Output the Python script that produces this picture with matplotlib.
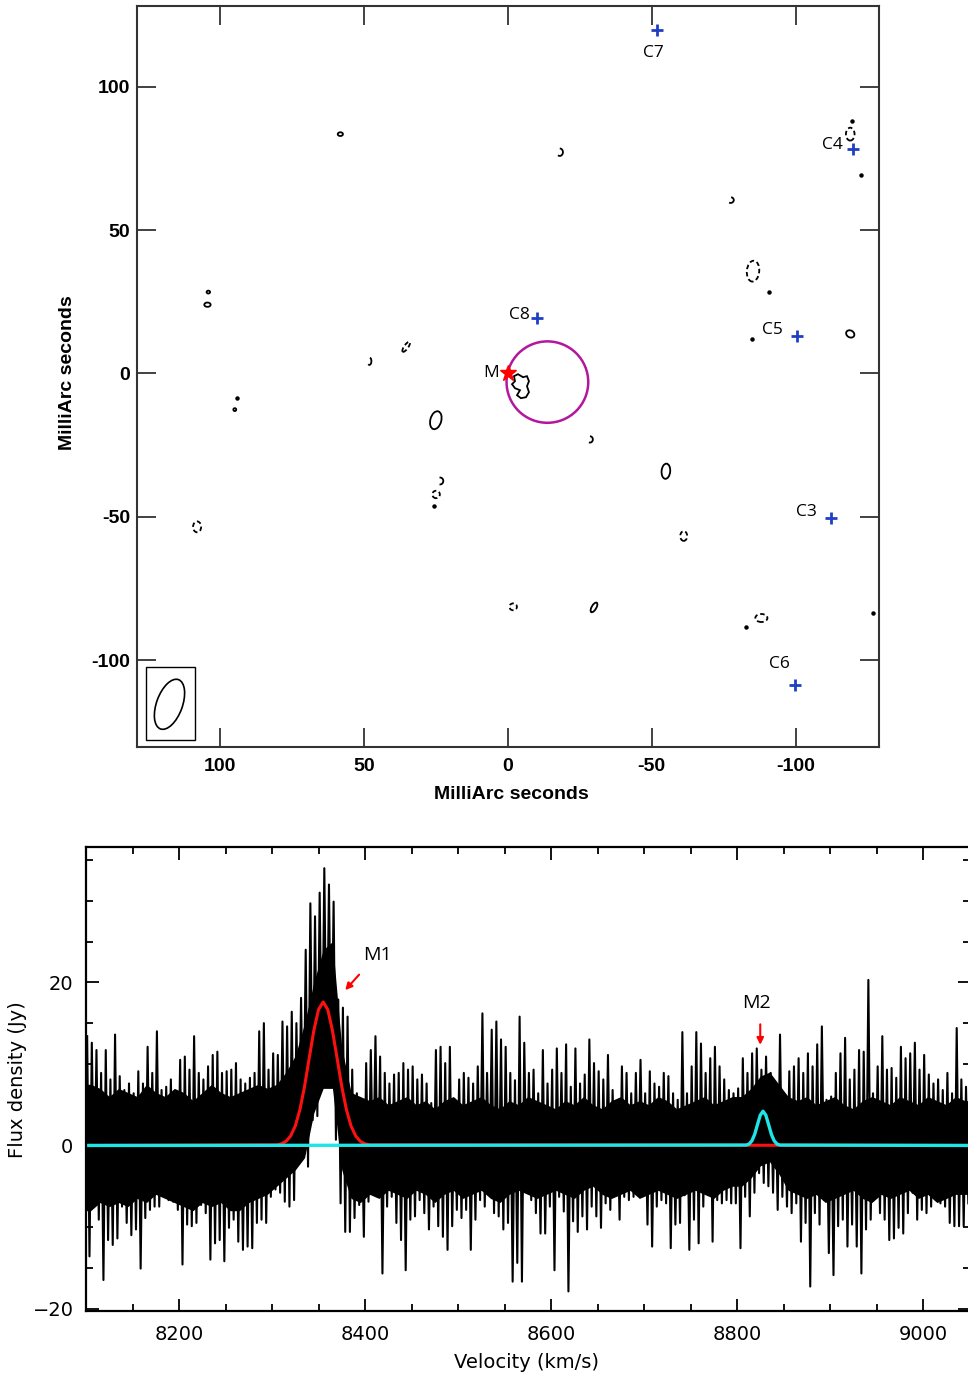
import matplotlib.pyplot as plt
from matplotlib.patches import Ellipse, Arc, Circle, Rectangle, Polygon
import numpy as np

# ---------------- top panel: VLBI map (milliarcsec) ----------------
src_names = ['C3', 'C4', 'C5', 'C6', 'C7', 'C8']
src_x = [-112.4, -120.1, -100.5, -99.9, -51.7, -10.2]
src_y = [-50.4, 78.3, 13.1, -108.8, 119.8, 19.4]
lab_x = [-103.7, -112.8, -92.0, -94.4, -50.6, -3.9]
lab_y = [-48.2, 79.6, 15.1, -101.3, 111.8, 20.5]

# closed contours: x, y, width, height, angle, dashed?
ell_x = [58.3, 104.2, 104.5, -119.0, 25.1, -54.9, -29.9, 95.0,
         -85.2, -119.0, 25.0, 108.1, -1.8, -88.1, 35.4, -61.1]
ell_y = [83.5, 28.4, 24.0, 13.8, -16.3, -34.1, -81.6, -12.6,
         35.7, 83.5, -42.2, -53.5, -81.4, -85.3, 9.3, -56.7]
ell_w = [1.8, 1.2, 2.2, 3.0, 3.8, 3.0, 1.6, 1.0,
         4.3, 3.0, 2.6, 2.8, 2.6, 4.2, 1.4, 2.4]
ell_h = [1.3, 1.0, 1.5, 2.4, 6.4, 5.3, 3.8, 1.0,
         7.3, 4.5, 2.6, 3.8, 2.4, 2.8, 4.2, 3.4]
ell_a = [0, 0, 0, 30, 15, 5, 30, 0,
         5, 0, 0, 0, 0, 0, 35, 0]
ell_dash = [False] * 8 + [True] * 8

# open contour pieces
arc_x = [-18.0, -77.4, 48.2, -28.5, 23.6]
arc_y = [77.2, 60.5, 4.3, -23.0, -37.5]
arc_w = [2.2, 2.2, 1.4, 2.0, 2.2]
arc_h = [2.6, 2.0, 2.6, 2.2, 2.4]
arc_t1 = [90, 100, 100, 90, 80]
arc_t2 = [300, 300, 290, 290, 280]

dot_x = [-119.5, -122.9, -90.6, -84.7, 94.4, 25.9, -82.6, -126.8]
dot_y = [88.0, 69.2, 28.4, 12.0, -8.4, -46.2, -88.5, -83.7]

# contour around the maser position M
m_blob_x = [-2.08, -3.47, -5.21, -6.60, -7.29, -6.60, -7.29, -6.25, -4.51,
            -3.13, -4.17, -2.43, -1.39, -2.43]
m_blob_y = [-0.94, -0.24, -1.29, -0.94, -2.69, -4.43, -6.52, -8.27, -8.62,
            -7.57, -5.83, -5.13, -3.73, -2.69]

# ---------------- bottom panel: spectrum ----------------
# per 5 km/s channel group: upper and lower extent of the trace (Jy)
spec_hi = [13.4, 12.6, 11.7, 8.9, 11.7, 8.1, 13.6, 8.5, 6.8, 7.6,
           6.4, 9.1, 7.6, 12.1, 8.9, 14.0, 6.8, 7.2, 8.1, 6.0,
           10.5, 10.9, 9.3, 13.4, 8.9, 8.1, 9.7, 11.1, 11.5, 8.9,
           9.1, 9.3, 10.1, 8.1, 7.6, 8.3, 8.9, 14.0, 15.0, 9.3,
           11.3, 11.1, 15.2, 14.6, 16.4, 15.0, 18.1,
           24.0, 29.7, 28.1, 31.0, 34.0, 32.0, 29.9, 17.9, 16.9, 15.8,
           9.3, 6.4, 5.2, 10.1, 11.7, 13.4, 10.9, 8.9, 7.6, 8.7,
           8.9, 10.1, 9.3, 9.7, 8.1, 8.7, 7.6, 5.2, 11.7, 12.1,
           10.1, 12.1, 5.6, 8.1, 8.9, 8.3, 7.6, 9.7, 16.2, 8.9,
           14.2, 15.2, 13.0, 12.1, 8.9, 8.0,
           15.8, 12.6, 8.9, 9.3, 6.4, 11.7, 7.6, 9.3, 11.9, 8.9,
           12.4, 7.2, 11.9, 7.6, 8.7, 13.0, 10.1, 9.1, 8.1, 11.1,
           6.8, 4.8, 9.7, 8.9, 6.4, 8.9, 10.5, 6.4, 9.1, 7.6,
           7.2, 8.9, 8.5, 6.4, 5.6, 13.9, 6.4, 9.7, 13.9, 12.5,
           8.9, 10.7, 12.1, 9.7, 8.1, 6.8,
           6.4, 7.0, 10.7, 8.9, 11.3, 11.9, 9.3, 10.9, 8.9, 7.4,
           13.6, 5.2, 9.1, 9.7, 10.7, 8.9, 11.3, 9.7, 12.4, 14.6,
           5.6, 6.0, 8.9, 11.3, 13.2, 8.1, 9.3, 11.7, 11.5, 20.3,
           6.4, 9.7, 13.4, 9.3, 9.5, 8.3, 12.1, 10.7, 11.3, 12.6,
           9.3, 11.1, 8.7, 7.6, 8.1, 6.8, 8.9, 6.4, 14.4, 8.1,
           7.2]
spec_lo = [-13.6, -7.5, -9.1, -16.5, -11.6, -12.2, -11.4, -7.5, -9.5, -11.0,
           -10.3, -15.1, -8.9, -7.9, -7.5, -7.5, -5.8, -6.7, -6.9, -7.9,
           -14.6, -9.7, -9.9, -9.5, -7.3, -8.3, -14.0, -12.0, -11.6, -14.2,
           -10.1, -9.1, -11.8, -12.8, -12.4, -12.6, -9.5, -9.1, -9.5, -6.3,
           -5.4, -5.8, -6.9, -7.5, -6.7, -1.8, -0.9,
           -2.6, 3.1, 3.6, 6.8, 7.6, 7.2, 0.7, -7.1, -10.6, -10.6,
           -8.9, -7.3, -11.2, -6.9, -4.6, -5.8, -15.7, -7.5, -6.3, -9.5,
           -11.6, -15.3, -9.1, -8.7, -6.7, -8.3, -10.3, -7.5, -9.9, -11.2,
           -12.8, -9.9, -7.9, -8.9, -7.9, -12.8, -9.1, -6.7, -7.5, -5.8,
           -8.3, -8.7, -10.3, -9.5, -16.7, -14.4,
           -16.7, -5.8, -6.7, -8.3, -10.8, -10.8, -7.5, -15.3, -6.3, -8.1,
           -17.9, -9.3, -10.6, -8.7, -10.3, -7.5, -8.7, -10.1, -7.1, -7.9,
           -5.8, -9.1, -6.3, -6.7, -6.3, -5.4, -4.6, -9.7, -12.4, -7.5,
           -6.7, -7.1, -12.6, -9.7, -9.5, -6.1, -12.8, -9.1, -12.0, -7.5,
           -5.8, -11.8, -6.7, -7.1, -6.7, -7.1,
           -7.1, -12.6, -6.3, -8.7, -5.8, -3.4, -4.6, -5.0, -5.8, -7.9,
           -6.3, -7.5, -8.3, -7.1, -11.8, -9.5, -17.3, -8.3, -9.7, -6.7,
           -13.2, -15.9, -9.9, -9.1, -12.4, -9.7, -12.4, -15.7, -10.3, -9.1,
           -6.3, -8.3, -9.1, -11.6, -11.4, -10.1, -10.8, -8.3, -5.8, -9.1,
           -7.9, -8.3, -7.5, -6.7, -7.1, -7.5, -9.5, -9.9, -9.9, -9.9,
           -7.1]
bin_start = np.arange(8100, 9050, 5)

# dense (solid) part of the trace, per 10 km/s
core_hi = [7.5, 7, 6, 7, 6.5, 6, 7.5, 6.5, 6, 7,
           6.5, 5.5, 6.5, 7.5, 6.5, 6, 6.5, 7, 7.5, 7,
           7.5, 9, 11, 15, 20, 24, 25, 12, 6.5, 6,
           5.5, 6, 5, 5.5, 6, 5, 5.5, 4.5, 5.5, 6,
           5, 5.5, 6, 5, 4.5, 5.5, 5, 6, 5.5, 5,
           4.5, 5.5, 5, 6, 5, 4.5, 5.5, 6, 5, 5.5,
           5, 6, 5.5, 4.5, 5, 5.5, 6, 5, 5.5, 6,
           6, 7, 8.5, 9, 7.5, 6,
           5.5, 6, 5, 5.5, 6, 5, 4.5, 5.5, 6, 5.5,
           5, 6, 5.5, 5, 6, 5.5, 5, 6, 5.5]
core_lo = [-8, -7, -7.5, -7, -7.5, -6.5, -7, -6, -6.5, -7,
           -7.5, -8, -7, -7.5, -7, -8, -8, -7, -6.5, -6,
           -5, -4, -3, -1.5, 4, 7, 7, -3, -6.5, -7,
           -6, -6.5, -5.5, -6, -6.5, -5.5, -6, -7, -6, -5.5,
           -6.5, -6, -5.5, -6.5, -7, -6, -5.5, -6, -6.5, -6,
           -5.5, -6, -6.5, -5.5, -5, -6, -6.5, -6, -5.5, -6.5,
           -6, -5.5, -6, -6.5, -6, -5.5, -6, -6.5, -5.5, -5,
           -5, -4, -2.5, -2, -3.5, -5.5,
           -6, -6.5, -6, -7, -6.5, -6, -5.5, -6.5, -7, -6,
           -6.5, -6, -5.5, -6.5, -6, -7, -6.5, -6, -6]
core_mid = np.arange(8105, 9050, 10)

# Gaussian fit components
m1_v = [8305, 8310, 8315, 8320, 8325, 8330, 8335, 8340, 8345, 8350, 8355,
        8360, 8365, 8370, 8375, 8380, 8385, 8390, 8395, 8400, 8405]
m1_f = [0.07, 0.2, 0.5, 1.16, 2.38, 4.39, 7.24, 10.7, 14.1, 16.65, 17.6,
        16.65, 14.1, 10.7, 7.24, 4.39, 2.38, 1.16, 0.5, 0.2, 0.07]
m2_v = [8810, 8813, 8816, 8819, 8822, 8825, 8828, 8831, 8834, 8837, 8840,
        8843, 8846]
m2_f = [0.05, 0.18, 0.57, 1.36, 2.55, 3.71, 4.2, 3.71, 2.55, 1.36, 0.57,
        0.18, 0.05]

fig = plt.figure(figsize=(9.68, 13.78), dpi=100)

# ===== top =====
ax1 = fig.add_axes([137 / 968, 1 - 747 / 1378, 742 / 968, 741 / 1378])
ax1.set_xlim(129, -129)
ax1.set_ylim(-130.3, 128.2)

for x, y, w, h, a, d in zip(ell_x, ell_y, ell_w, ell_h, ell_a, ell_dash):
    ls = (0, (2.5, 1.6)) if d else '-'
    ax1.add_patch(Ellipse((x, y), w, h, angle=a, fill=False, ec='black',
                          lw=1.3, ls=ls))
for x, y, w, h, t1, t2 in zip(arc_x, arc_y, arc_w, arc_h, arc_t1, arc_t2):
    ax1.add_patch(Arc((x, y), w, h, theta1=t1, theta2=t2, ec='black', lw=1.3))
ax1.plot(dot_x, dot_y, 'o', color='black', ms=2.2, ls='none')
ax1.add_patch(Polygon(list(zip(m_blob_x, m_blob_y)), closed=True, fill=False,
                      ec='black', lw=1.3))

# beam
ax1.add_patch(Rectangle((126.0, -127.7), -17.3, 25.3, fill=False,
                        ec='black', lw=1.0))
ax1.add_patch(Ellipse((117.7, -115.4), 9.0, 18.3, angle=20, fill=False,
                      ec='black', lw=1.2))

ax1.add_patch(Circle((-13.7, -3.0), 14.2, fill=False, ec='#b3179e', lw=1.8))
ax1.plot([0], [0], marker='*', color='red', ms=12, ls='none')
ax1.text(5.7, 0.0, 'M', ha='center', va='center', fontsize=12.5,
         family='Open Sans')

ax1.plot(src_x, src_y, '+', color='#1f3fc4', ms=8, mew=2, ls='none')
for n, x, y in zip(src_names, lab_x, lab_y):
    ax1.text(x, y, n, ha='center', va='center', fontsize=12.5,
             family='Open Sans')

ax1.set_xticks([100, 50, 0, -50, -100])
ax1.set_xticklabels(['100', '50', '0', '-50', '-100'], fontweight='bold',
                    family='Liberation Sans', fontsize=14)
ax1.set_yticks([100, 50, 0, -50, -100])
ax1.set_yticklabels(['100', '50', '0', '-50', '-100'], fontweight='bold',
                    family='Liberation Sans', fontsize=14)
ax1.tick_params(direction='in', length=14, width=1.3, color='#333333',
                top=True, right=True)
ax1.tick_params(axis='x', pad=8)
ax1.tick_params(axis='y', pad=5)
for s in ax1.spines.values():
    s.set_linewidth(1.5)
    s.set_color('#333333')

fig.text(511 / 968, 1 - 795 / 1378, 'MilliArc seconds', ha='center',
         va='center', fontsize=14, fontweight='bold', family='Liberation Sans')
fig.text(68 / 968, 1 - 373 / 1378, 'MilliArc seconds', ha='center',
         va='center', rotation=90, fontsize=14, fontweight='bold',
         family='Liberation Sans')

# ===== bottom =====
ax2 = fig.add_axes([86 / 968, 1 - 1311 / 1378, 883.5 / 968, 464 / 1378])
ax2.set_xlim(8100, 9050)
ax2.set_ylim(-20.3, 36.6)

v = np.empty(2 * len(bin_start))
f = np.empty(2 * len(bin_start))
v[0::2] = bin_start + 1.25
v[1::2] = bin_start + 3.75
f[0::2] = spec_hi
f[1::2] = spec_lo
cx = np.concatenate([[8100], core_mid, [9050]])
chi = np.concatenate([[core_hi[0]], core_hi, [core_hi[-1]]])
clo = np.concatenate([[core_lo[0]], core_lo, [core_lo[-1]]])
ax2.fill_between(cx, clo, chi, color='black', lw=0)
ax2.plot(v, f, color='black', lw=1.5)

ax2.plot([8100] + m1_v + [9050], [0] + m1_f + [0], color='#ff1010', lw=2.2)
ax2.plot([8100] + m2_v + [9050], [0] + m2_f + [0], color='#1ee6e6', lw=2.4)

ax2.text(8413, 23.4, 'M1', ha='center', va='center', fontsize=14,
         family='Open Sans')
ax2.annotate('', xy=(8376.7, 18.8), xytext=(8395.7, 21.2),
             arrowprops=dict(arrowstyle='-|>', color='red', lw=1.5,
                             mutation_scale=10))
ax2.text(8820.8, 17.5, 'M2', ha='center', va='center', fontsize=14,
         family='Open Sans')
ax2.annotate('', xy=(8825, 12.0), xytext=(8825, 15.2),
             arrowprops=dict(arrowstyle='-|>', color='red', lw=1.5,
                             mutation_scale=10))

ax2.set_xticks([8200, 8400, 8600, 8800, 9000])
ax2.set_xticks(np.arange(8150, 9050, 50), minor=True)
ax2.set_yticks([-20, 0, 20])
ax2.set_yticklabels(['\u221220', '0', '20'])
ax2.set_yticks(np.arange(-20, 36, 5), minor=True)
ax2.tick_params(which='both', direction='in', top=True, right=True,
                labelsize=14, width=1.3)
ax2.tick_params(which='major', length=9)
ax2.tick_params(which='minor', length=5)
ax2.tick_params(axis='x', pad=10)
ax2.tick_params(axis='y', pad=9)
for lab in ax2.get_xticklabels() + ax2.get_yticklabels():
    lab.set_family('DejaVu Sans')
for s in ax2.spines.values():
    s.set_linewidth(1.6)

fig.text(527 / 968, 1 - 1363 / 1378, 'Velocity (km/s)', ha='center',
         va='center', fontsize=14, family='DejaVu Sans')
fig.text(18 / 968, 1 - 1080 / 1378, 'Flux density (Jy)', ha='center',
         va='center', rotation=90, fontsize=14, family='DejaVu Sans')

fig.savefig('out.png', dpi=100)
